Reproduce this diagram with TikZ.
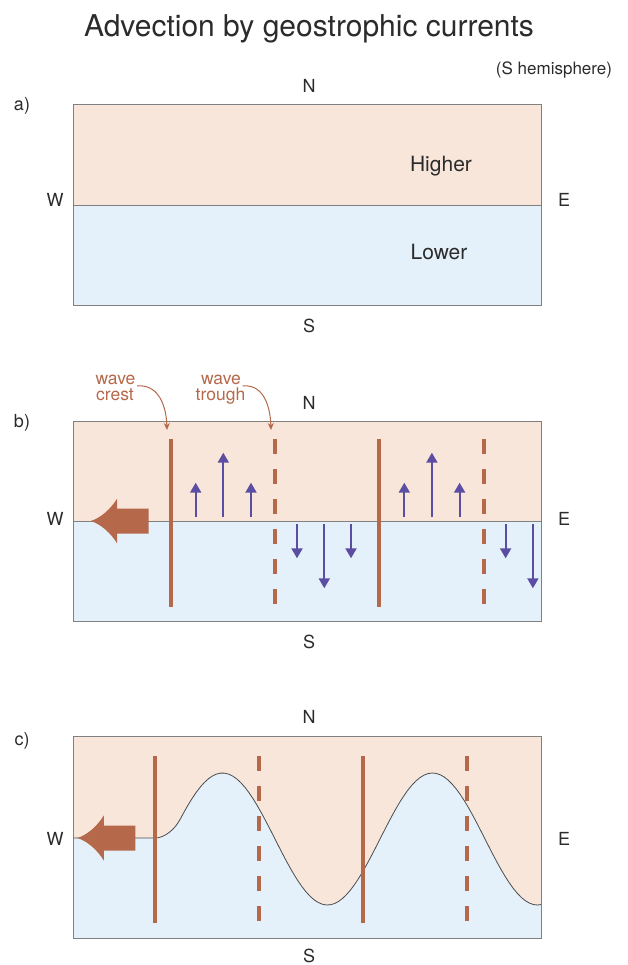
\documentclass[tikz,border=0pt]{standalone}
\usepackage{fontspec}
\setmainfont{TeX Gyre Heros}
\usetikzlibrary{arrows.meta}

\definecolor{warm}{HTML}{F8E6DB}
\definecolor{cool}{HTML}{E4F1FB}
\definecolor{rust}{HTML}{B5694A}
\definecolor{violet}{HTML}{5B4EA2}
\definecolor{frame}{HTML}{808080}
\definecolor{ink}{HTML}{2B2B2B}

\tikzset{
  txt/.style={inner sep=0pt, anchor=base, text=ink},
  compass/.style={txt, font=\fontsize{18}{20}\selectfont},
  panel/.style={txt, font=\fontsize{18}{20}\selectfont},
  level/.style={txt, font=\fontsize{21}{23}\selectfont},
  wavelbl/.style={inner sep=0pt, anchor=base, text=rust, font=\fontsize{17.5}{19}\selectfont},
  boxframe/.style={draw=frame, line width=0.9pt},
  divider/.style={draw=frame, line width=0.8pt},
  crest/.style={draw=rust, line width=4pt},
  trough/.style={draw=rust, line width=4pt, dash pattern=on 15pt off 15pt},
  flow/.style={draw=violet, line width=2pt, -{Triangle[width=11pt,length=10pt]}, fill=violet},
  pointer/.style={draw=rust, line width=1pt, -{Stealth[width=6pt,length=7pt]}},
  surface/.style={draw=black!70, line width=0.8pt},
  westarrow/.pic={
    \fill[rust] (0,0) .. controls (10,-3) and (20,-12) .. (26.5,-22.5)
      -- (26.5,-12.5) -- (58,-12.5) -- (58,12.5) -- (26.5,12.5) -- (26.5,22.5)
      .. controls (20,12) and (10,3) .. cycle;
  }
}

\begin{document}
\begin{tikzpicture}[x=1pt,y=-1pt]
\useasboundingbox (0,0) rectangle (627,965);

% title
\node[txt, font=\fontsize{30}{32}\selectfont] (title) at (309,37) {Advection by geostrophic currents};
\node[txt, font=\fontsize{17}{19}\selectfont] (hemi) at (554,75) {(S hemisphere)};

% ---------- panel a ----------
\fill[warm] (73.3,104) rectangle (541.7,205);
\fill[cool] (73.3,205) rectangle (541.7,305);
\draw[divider] (73.3,205) -- (541.7,205);
\draw[boxframe] (73.3,104) rectangle (541.7,305);
\node[panel] (la) at (22,111) {a)};
\node[compass] (Na) at (309,93) {N};
\node[compass] (Sa) at (309,332) {S};
\node[compass] (Wa) at (55,207) {W};
\node[compass] (Ea) at (564,207) {E};
\node[level] (hi) at (441,172) {Higher};
\node[level] (lo) at (439,260) {Lower};

% ---------- panel b ----------
\fill[warm] (73.3,421) rectangle (541.7,521);
\fill[cool] (73.3,521) rectangle (541.7,621.7);
\draw[divider] (73.3,521) -- (541.7,521);
\draw[boxframe] (73.3,421) rectangle (541.7,621.7);
\node[panel] (lb) at (22,427) {b)};
\node[compass] (Nb) at (309,409) {N};
\node[compass] (Sb) at (309,648) {S};
\node[compass] (Wb) at (55,525) {W};
\node[compass] (Eb) at (564,525) {E};

\pic at (90.7,521) {westarrow};

\foreach \o in {0,208.6}{
  \draw[crest] (170.7+\o,439) -- (170.7+\o,606.7);
  \draw[trough] (275+\o,439) -- (275+\o,606.7);
  \draw[flow] (195.7+\o,517) -- (195.7+\o,482.7);
  \draw[flow] (223.3+\o,517) -- (223.3+\o,452.7);
  \draw[flow] (251+\o,517) -- (251+\o,482.7);
  \draw[flow] (297+\o,524.3) -- (297+\o,558.3);
  \draw[flow] (324.3+\o,524.3) -- (324.3+\o,588.3);
}
\draw[flow] (351,524.3) -- (351,558.3);

\coordinate (crestTop) at (167,430);
\coordinate (troughTop) at (271,430);
\node[wavelbl] (wcA) at (115.5,384) {wave};
\node[wavelbl] (wcB) at (115,400.5) {crest};
\node[wavelbl] (wtA) at (221,384) {wave};
\node[wavelbl] (wtB) at (220.5,400.5) {trough};
\draw[pointer] ([xshift=1.5pt,yshift=-2pt]wcA.base east) .. controls (155,384) and (166,400) .. (crestTop);
\draw[pointer] ([xshift=1.5pt,yshift=-2pt]wtA.base east) .. controls (260,384) and (270,400) .. (troughTop);

% ---------- panel c ----------
\fill[warm] (73.3,736.7) rectangle (541.7,938.3);
\fill[cool] (73.3,838) -- (155,838) .. controls (165,838) and (175,829) .. (180,819.5)
  -- plot[domain=180:541.7, samples=90, variable=\t] ({\t},{839-66*sin((\t-170)*1.7143)})
  -- (541.7,938.3) -- (73.3,938.3) -- cycle;
\draw[surface] (73.3,838) -- (155,838) .. controls (165,838) and (175,829) .. (180,819.5)
  -- plot[domain=180:541.7, samples=90, variable=\t] ({\t},{839-66*sin((\t-170)*1.7143)});
\draw[boxframe] (73.3,736.7) rectangle (541.7,938.3);
\node[panel] (lc) at (22,745) {c)};
\node[compass] (Nc) at (309,723) {N};
\node[compass] (Sc) at (309,962.5) {S};
\node[compass] (Wc) at (55,845) {W};
\node[compass] (Ec) at (564,845) {E};

\pic at (77.3,838) {westarrow};

\foreach \o in {0,208.3}{
  \draw[crest] (155+\o,756) -- (155+\o,923.3);
  \draw[trough] (259+\o,756) -- (259+\o,923.3);
}
\end{tikzpicture}
\end{document}
